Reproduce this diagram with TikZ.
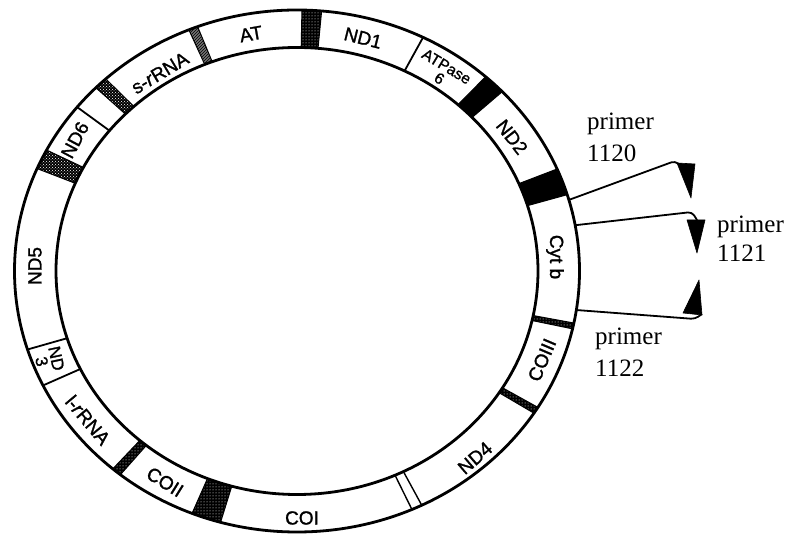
\documentclass[tikz,border=0pt]{standalone}
\usepackage{fontspec}
\setmainfont{Liberation Serif}
\setsansfont{Liberation Sans}
\newfontfamily\genefont[FakeBold=1.3]{Liberation Sans}
\usetikzlibrary{calc,patterns}

% a shaded block of the ring between two parametric angles
\newcommand\ringband[3]{%
  \path[#3] ($(c)+(#1:282.5pt and 261pt)$)
    arc[start angle=#1,end angle=#2,x radius=282.5pt,y radius=261pt]
    -- ($(c)+(#2:241pt and 223.5pt)$)
    arc[start angle=#2,end angle=#1,x radius=241pt,y radius=223.5pt] -- cycle;}
% a single gene border across the ring
\newcommand\ringtick[2][]{%
  \draw[tick,#1] ($(c)+(#2:241pt and 223.5pt)$) -- ($(c)+(#2:282.5pt and 261pt)$);}

\tikzset{
  ring/.style={line width=2.8pt},
  tick/.style={line width=1.8pt},
  solidband/.style={fill=black, draw=black, line width=1pt},
  dotband/.style={draw=black, line width=1pt, preaction={fill=black},
                  pattern=dots, pattern color=white},
  streakband/.style={draw=black, line width=1pt, preaction={fill=black},
                  pattern=dots, pattern color=white},
  hatchband/.style={draw=black, line width=1pt, preaction={fill=black!55},
                  pattern=north east lines},
  darkcross/.style={draw=black, line width=1pt, preaction={fill=black},
                  pattern=crosshatch dots, pattern color=white},
  lbl/.style={font=\genefont\fontsize{19}{19}\selectfont, inner sep=0pt},
  smalllbl/.style={font=\genefont\fontsize{15.5}{14}\selectfont, inner sep=0pt, align=center},
  ptxt/.style={font=\fontsize{25}{25}\selectfont, anchor=base west, inner sep=0pt},
  primerline/.style={line width=1.8pt, rounded corners=4pt},
  head/.style={fill=black, draw=black, line width=0.6pt, line join=round}
}

\begin{document}
\begin{tikzpicture}[x=1pt,y=1pt]
\useasboundingbox (0,0) rectangle (785,538);
\coordinate (c) at (297,267);

% shaded spacer blocks
\ringband{85}{89}{streakband}
\ringband{110.6}{112.5}{hatchband}
\ringband{132.6}{135.4}{darkcross}
\ringband{152.4}{156.9}{darkcross}
\ringband{43.4}{48.1}{solidband}
\ringband{17}{23}{solidband}
\ringband{-12.8}{-11.5}{dotband}
\ringband{-33}{-31.5}{dotband}
\ringband{248.2}{254.3}{dotband}
\ringband{229.3}{231.3}{dotband}

% plain borders
\ringtick{63.5}
\ringtick{206}
\ringtick{197.5}
\ringtick{141.1}
\ringtick[line width=1.4pt]{-66}
\ringtick[line width=1.4pt]{-63.8}

% the ring
\draw[ring] (c) ellipse[x radius=282.5pt, y radius=261pt];
\draw[ring] (c) ellipse[x radius=241pt, y radius=223.5pt];

% gene names
\node[lbl, rotate=10]  (at)   at (251,504) {AT};
\node[lbl, rotate=-14] (nd1)  at (363,500) {ND1};
\node[smalllbl, rotate=-31] (atp) at (443,465.5) {ATPase\\6};
\node[lbl, rotate=-52] (nd2)  at (512,401) {ND2};
\node[lbl, rotate=-90] (cytb) at (555,281) {Cyt b};
\node[lbl, rotate=67]  (co3)  at (542,178) {COIII};
\node[lbl, rotate=41]  (nd4)  at (475,80)  {ND4};
\node[lbl]             (co1)  at (302,20)  {COI};
\node[lbl, rotate=-32] (co2)  at (165,56)  {COII};
\node[lbl, rotate=-50] (lr)   at (88,118)  {l-\textit{r}RNA};
\node[smalllbl, font=\genefont\fontsize{17}{15}\selectfont, rotate=-78] (nd3) at (49,178) {ND\\3};
\node[lbl, rotate=90]  (nd5)  at (35,272)  {ND5};
\node[lbl, rotate=62]  (nd6)  at (75,398)  {ND6};
\node[lbl, rotate=31]  (sr)   at (160,465) {s-\textit{r}RNA};

% primer labels
\node[ptxt] (p1a) at (587,408) {primer};
\node[ptxt] (p1b) at (587,376) {1120};
\node[ptxt] (p2a) at (717,305) {primer};
\node[ptxt] (p2b) at (717,276) {1121};
\node[ptxt] (p3a) at (595,193) {primer};
\node[ptxt] (p3b) at (595,161) {1122};

% primer sites on the ring and their arrow heads
\coordinate (s1) at ($(c)+(15.8:282.5pt and 261pt)$);
\coordinate (s2) at ($(c)+(10.1:282.5pt and 261pt)$);
\coordinate (s3) at ($(c)+(-8.6:282.5pt and 261pt)$);
\coordinate (h1) at (680,373);
\coordinate (h2) at (697,318);
\coordinate (h3) at (702,224);

\draw[primerline] (s1) -- (675,377) -- (h1);
\fill[head] (677,375) -- (695,374) -- (691,340) -- cycle;
\draw[primerline] (s2) -- (692,326) -- (h2);
\fill[head] (687,318) -- (705,318) -- (697,285) -- cycle;
\draw[primerline] (s3) -- (695,219) -- (h3);
\fill[head] (683,225) -- (699,258) -- (702,223) -- cycle;
\end{tikzpicture}
\end{document}
